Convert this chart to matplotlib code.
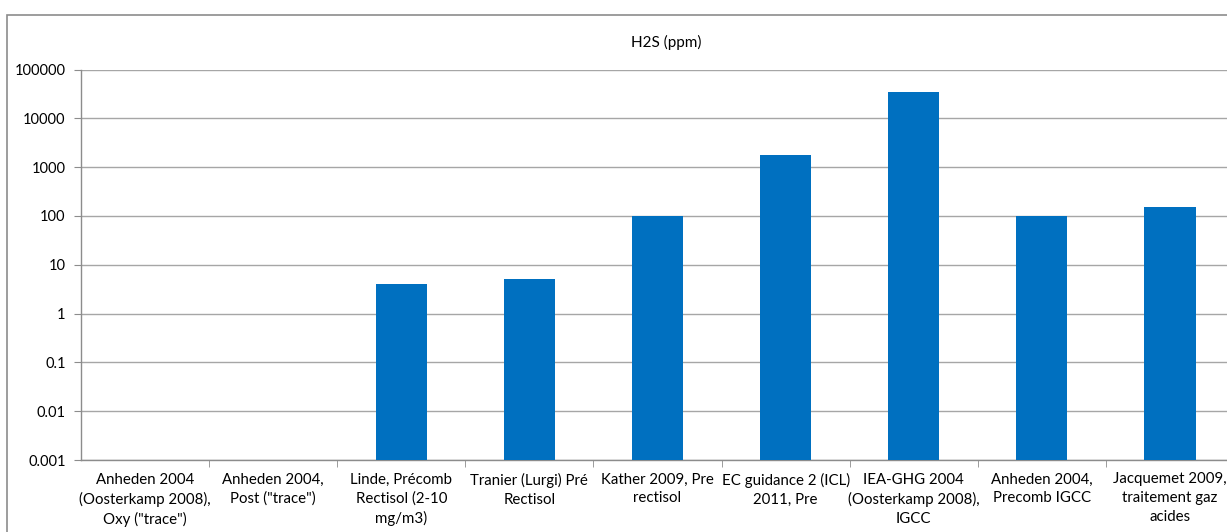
import matplotlib.pyplot as plt
import numpy as np
from matplotlib.patches import Rectangle

# data
categories = ['Anheden 2004\n(Oosterkamp 2008),\nOxy ("trace")',
              'Anheden 2004,\nPost ("trace")',
              'Linde, Précomb\nRectisol (2-10\nmg/m3)',
              'Tranier (Lurgi) Pré\nRectisol',
              'Kather 2009, Pre\nrectisol',
              'EC guidance 2 (ICL)\n2011, Pre',
              'IEA-GHG 2004\n(Oosterkamp 2008),\nIGCC',
              'Anheden 2004,\nPrecomb IGCC',
              'Jacquemet 2009,\ntraitement gaz\nacides']
h2s_ppm = [np.nan, np.nan, 4, 5, 100, 1750, 35000, 100, 150]
yticks = [0.001, 0.01, 0.1, 1, 10, 100, 1000, 10000, 100000]
ytick_labels = ['0.001', '0.01', '0.1', '1', '10', '100', '1000', '10000', '100000']

plt.rcParams['font.family'] = ['Lato', 'DejaVu Sans']

W, H = 1227, 532
fig = plt.figure(figsize=(W / 100, H / 100), dpi=100)

# outer chart border (cut off at right and bottom like the screenshot)
fig.patches.append(Rectangle((7 / W, -0.05), 1.1, 1 - 15 / H + 0.05,
                             transform=fig.transFigure, fill=False,
                             edgecolor='#8c8c8c', linewidth=1.2))

ax = fig.add_axes([81 / W, (H - 460) / H, (1234 - 81) / W, (460 - 69.5) / H])
x = np.arange(len(categories))
ax.bar(x, h2s_ppm, width=0.4, color='#0070C0', zorder=3)

ax.set_yscale('log')
ax.set_ylim(0.001, 100000)
ax.set_xlim(-0.5, len(categories) - 0.5)
ax.set_yticks(yticks)
ax.set_yticklabels(ytick_labels, fontsize=10.5)
ax.yaxis.set_minor_locator(plt.NullLocator())
ax.grid(axis='y', color='#a6a6a6', linewidth=1, zorder=0)

ax.set_xticks(x)
ax.set_xticklabels(categories, fontsize=10.8, linespacing=1.45, va='top')
ax.set_xticks(np.arange(0.5, len(categories) - 0.5), minor=True)
ax.tick_params(axis='x', which='major', length=0, pad=9)
ax.tick_params(axis='x', which='minor', length=5, color='#8c8c8c', direction='out')
ax.tick_params(axis='y', length=5, color='#8c8c8c', direction='out', pad=6)

for s in ['top', 'right']:
    ax.spines[s].set_visible(False)
for s in ['left', 'bottom']:
    ax.spines[s].set_color('#8c8c8c')
    ax.spines[s].set_linewidth(1)

fig.text(666 / W, 1 - 42 / H, 'H2S (ppm)', ha='center', va='center', fontsize=11)

fig.savefig('out.png', dpi=100)
